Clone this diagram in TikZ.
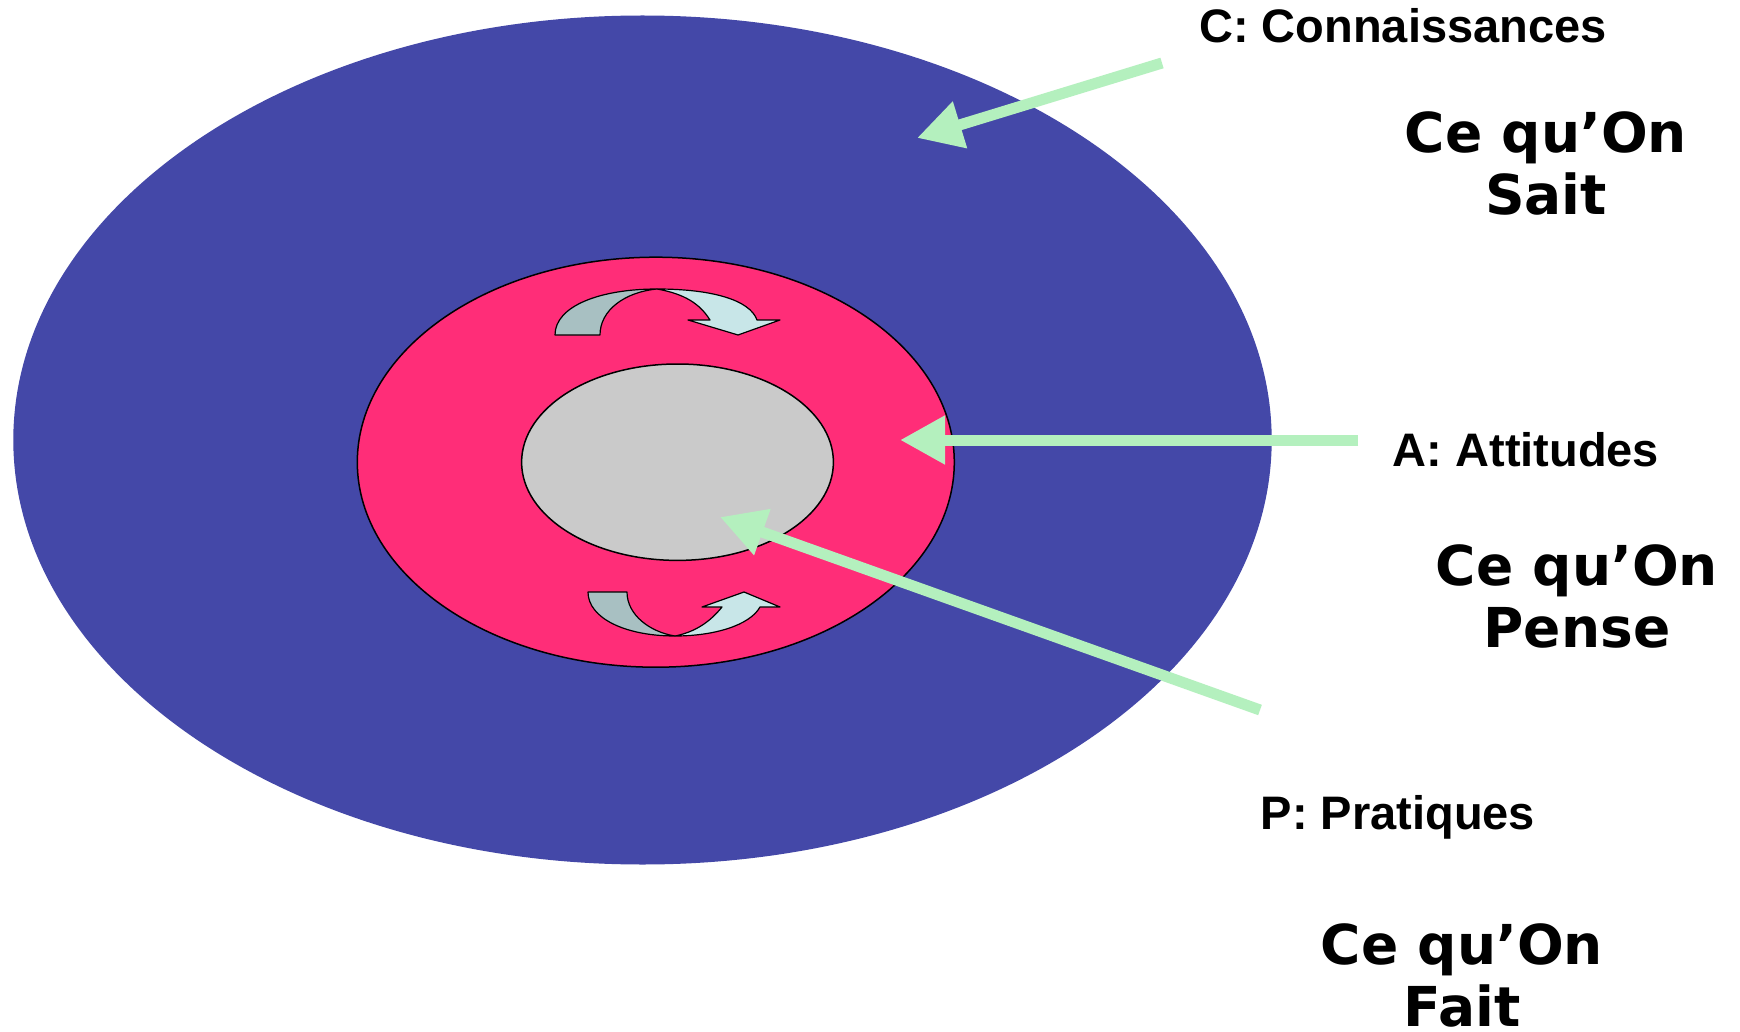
\documentclass[tikz,border=0pt]{standalone}
\usepackage{fontspec}
\newfontfamily\labelfont{Liberation Sans}
\newfontfamily\bigfont{DejaVu Sans}
\usetikzlibrary{arrows.meta,shapes.geometric}
\definecolor{ringblue}{RGB}{68,72,168}
\definecolor{ringpink}{RGB}{255,45,120}
\definecolor{coregrey}{RGB}{202,202,202}
\definecolor{arrowgreen}{RGB}{180,240,190}
\definecolor{curvedark}{RGB}{168,192,194}
\definecolor{curvelight}{RGB}{200,230,232}
\tikzset{
  ring/.style={ellipse, inner sep=0pt, line width=0.75pt},
  greenarrow/.style={draw=arrowgreen, line width=5.5pt, -{Triangle[length=22.5pt,width=23pt]}},
  smalllabel/.style={font=\labelfont\bfseries\fontsize{23.5}{28}\selectfont, inner sep=0pt, anchor=base},
  biglabel/.style={font=\bigfont\bfseries\fontsize{27.5}{31}\selectfont, inner sep=0pt, anchor=base, align=center},
  curvepart/.style={draw=black, line width=0.6pt, line join=round}
}
\begin{document}
\begin{tikzpicture}[x=0.5pt,y=-0.5pt]
\useasboundingbox (0,0) rectangle (1740,1032);
\fill[white] (0,0) rectangle (1740,1032);

% concentric ellipses
\node[ring, fill=ringblue, minimum width=629.2pt, minimum height=424.5pt] (outer) at (642.5,440) {};
\node[ring, draw=black, fill=ringpink, minimum width=298.5pt, minimum height=205pt] (middle) at (655.8,462.2) {};
\node[ring, draw=black, fill=coregrey, minimum width=155.9pt, minimum height=98.2pt] (core) at (677.5,462.2) {};

% top curved arrow
\fill[curvedark, curvepart] (555,335) .. controls (555,306) and (600,289) .. (657,289)
  .. controls (625,292) and (600,310) .. (600,335) -- cycle;
\fill[curvelight, curvepart] (657,289) .. controls (712,289) and (750,300) .. (757,320)
  -- (780,320) -- (738,335) -- (688,320) -- (710,320)
  .. controls (700,304) and (685,294) .. (657,289) -- cycle;

% bottom curved arrow
\fill[curvedark, curvepart] (588,592) .. controls (588,618) and (625,636) .. (675,636)
  .. controls (650,632) and (627,615) .. (627,592) -- cycle;
\fill[curvelight, curvepart] (675,636) .. controls (715,636) and (750,625) .. (760,607)
  -- (780,607) -- (744,592) -- (702,607) -- (722,607)
  .. controls (710,622) and (695,632) .. (675,636) -- cycle;

% arrow ends
\coordinate (ctail) at (1162,63);
\coordinate (atail) at (1358,440);
\coordinate (ptail) at (1260,710);
\coordinate (ctip) at (917,138);
\coordinate (atip) at (900,440);
\coordinate (ptip) at (720,517);

\draw[greenarrow] (ctail) -- (ctip);
\draw[greenarrow] (atail) -- (atip);
\draw[greenarrow] (ptail) -- (ptip);

% labels
\node[smalllabel] (clabel) at (1403,43) {C: Connaissances};
\node[smalllabel] (alabel) at (1526,466) {A: Attitudes};
\node[smalllabel] (plabel) at (1398,829) {P: Pratiques};

\node[biglabel] (sait) at (1546,215) {Ce qu’On\\Sait};
\node[biglabel] (pense) at (1577,647) {Ce qu’On\\Pense};
\node[biglabel] (fait) at (1462,1026) {Ce qu’On\\Fait};
\end{tikzpicture}
\end{document}
